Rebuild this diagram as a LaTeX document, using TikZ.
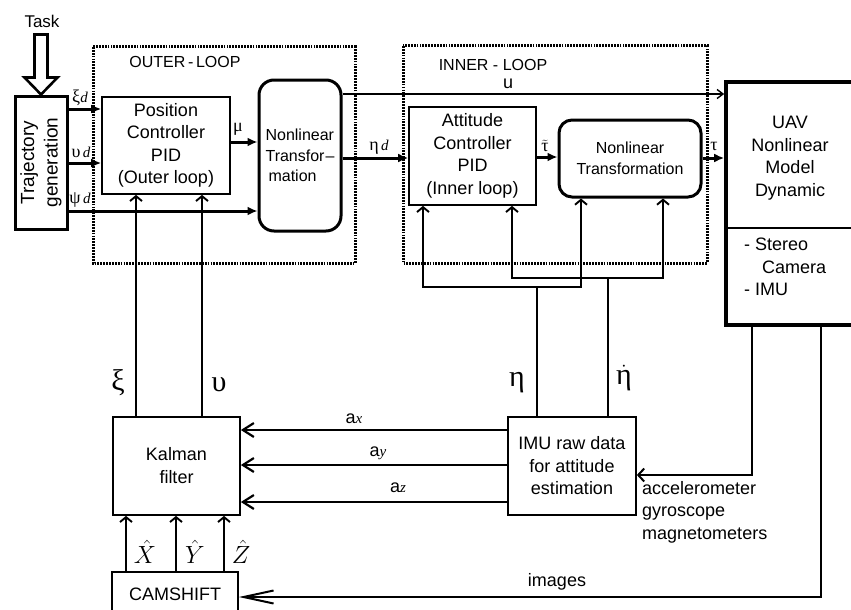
\documentclass[tikz,border=0pt]{standalone}
\usepackage{fontspec}
\setmainfont{Liberation Sans}
\newfontfamily\grk{Liberation Serif}
\usetikzlibrary{arrows.meta}
\newcommand\gsub[2]{{\grk #1}{\grk\itshape\fontsize{15}{15}\selectfont #2}}
\newcommand\asub[1]{a{\grk\itshape\fontsize{15}{15}\selectfont #1}}
\begin{document}
\begin{tikzpicture}[x=1pt,y=-1pt,
  box/.style={draw, line width=1.7pt, inner sep=0pt, align=center, font=\fontsize{18}{22.5}\selectfont},
  rbox/.style={box, line width=3pt, rounded corners=13pt},
  dotframe/.style={line width=3pt, dash pattern=on 1.8pt off 1.1pt},
  fat/.style={line width=3pt, -{Latex[length=10pt,width=9pt]}},
  fb/.style={line width=1.9pt, -{Straight Barb[length=5pt,width=12pt]}},
  ln/.style={line width=1.9pt},
  acc/.style={line width=2.2pt, -{Straight Barb[length=11pt,width=14pt]}},
  glab/.style={inner sep=0pt, font=\fontsize{18}{18}\selectfont},
  biglab/.style={inner sep=0pt, font=\grk\fontsize{30}{30}\selectfont},
  txt/.style={inner sep=0pt, font=\fontsize{18}{22.5}\selectfont}
]
\useasboundingbox (0,0) rectangle (851,610);

% frames
\draw[dotframe] (93,47) rectangle (355,263);
\draw[dotframe] (403,46) rectangle (707,263);
\node[inner sep=0pt, font=\fontsize{16}{16}\selectfont] (outer) at (185,62) {OUTER\,-\,LOOP};
\node[inner sep=0pt, font=\fontsize{16}{16}\selectfont] (inner) at (493,65) {INNER - LOOP};

% blocks
\node[box, line width=3pt, minimum width=52pt, minimum height=133pt] (traj) at (41,162.5) {};
\node[inner sep=0pt, rotate=90, align=center, font=\fontsize{19}{23.5}\selectfont] (trajtxt) at (traj.center) {Trajectory\\generation};
\node[box, minimum width=128pt, minimum height=97pt] (pos) at (166,145.5) {Position\\Controller\\PID\\(Outer loop)};
\node[rbox, minimum width=82pt, minimum height=151pt, align=left, rounded corners=15pt, font=\fontsize{16}{20.5}\selectfont] (nt1) at (300,155.5) {Nonlinear\\Transfor\kern1pt--\\\kern3pt mation};
\node[box, minimum width=127pt, minimum height=98pt] (att) at (472.5,156) {Attitude\\Controller\\PID\\(Inner loop)};
\node[rbox, minimum width=142pt, minimum height=77pt, font=\fontsize{16}{21}\selectfont] (nt2) at (630,158.5) {Nonlinear\\Transformation};
\node[draw, line width=3.6pt, inner sep=0pt, minimum width=132pt, minimum height=243pt] (uav) at (792,203.5) {};
\draw[line width=1.9pt] (uav.west |- 0,228) -- (uav.east |- 0,228);
\node[txt, align=center] (uavtxt) at (790,158) {UAV\\Nonlinear\\Model\\Dynamic};
\node[txt, align=left, anchor=north west] (sens) at (744,238) {- Stereo\\\hspace*{18pt}Camera\\- IMU};

\node[box, minimum width=127pt, minimum height=98pt, font=\fontsize{18}{23}\selectfont] (kal) at (176.5,466) {Kalman\\filter};
\node[box, minimum width=128pt, minimum height=98pt, font=\fontsize{18}{22.5}\selectfont] (imu) at (572,466) {IMU raw data\\for attitude\\estimation};
\node[box, minimum width=126pt, minimum height=44pt] (cam) at (175,594) {CAMSHIFT};

% task arrow
\node[inner sep=0pt, font=\fontsize{17}{17}\selectfont] (task) at (42,21) {Task};
\draw[line width=2.6pt, line join=miter] (traj.north) -- ++(-16.5,-17) -- ++(10,0) -- ++(0,-43) -- ++(13,0) -- ++(0,43) -- ++(10,0) -- cycle;

% reference signals
\draw[fat] (traj.east |- 0,109) -- (pos.west |- 0,109);
\node[glab] (lxid) at (80,98) {\gsub{ξ}{d}};
\draw[fat] (traj.east |- 0,163) -- (pos.west |- 0,163);
\node[glab] (lupd) at (81,152) {\gsub{υ}{\,d}};
\draw[fat] (traj.east |- 0,211) -- (nt1.west |- 0,211);
\node[glab] (lpsid) at (80,200) {\gsub{ψ}{\,d}};
\draw[fat] (pos.east |- 0,142) -- (nt1.west |- 0,142);
\node[glab] (lmu) at (238,129) {{\grk μ}};
\draw[fat] (nt1.east |- 0,158) -- (att.west |- 0,158);
\node[glab] (letad) at (379,147) {\gsub{η}{\,d}};
\draw[line width=1.4pt, -{Straight Barb[length=6pt,width=9pt]}] (nt1.east |- 0,94) -- (uav.west |- 0,94);
\node[glab] (lu) at (508,84) {u};
\draw[fat] (att.east |- 0,157) -- (nt2.west |- 0,157);
\node[glab] (ltt) at (545,146) {$\tilde{\hbox{\grk τ}}$};
\draw[fat] (nt2.east |- 0,158) -- (uav.west |- 0,158);
\node[glab] (ltau) at (714,146) {{\grk τ}};

% outer feedback
\draw[fb] (kal.north -| 136,0) -- (pos.south -| 136,0);
\draw[fb] (kal.north -| 202,0) -- (pos.south -| 202,0);
\node[biglab] (lxi) at (118,383) {ξ};
\node[biglab] (lups) at (219,385) {υ};

% inner feedback bus
\coordinate (a1) at (423,287);
\coordinate (a2) at (581,287);
\coordinate (b1) at (512,278);
\coordinate (b2) at (663,278);
\draw[ln] (imu.north -| 537,0) -- (537,287);
\draw[ln] (imu.north -| 608,0) -- (608,278);
\draw[fb] (a2) -- (a1) -- (att.south -| a1);
\draw[fb] (a1) -- (a2) -- (nt2.south -| a2);
\draw[fb] (b2) -- (b1) -- (att.south -| b1);
\draw[fb] (b1) -- (b2) -- (nt2.south -| b2);
\node[biglab] (leta) at (517,383) {η};
\node[biglab] (letadot) at (624,378) {$\dot{\hbox{\grk\fontsize{30}{30}\selectfont η}}$};

% accelerations
\draw[acc] (imu.west |- 0,430) -- (kal.east |- 0,430);
\draw[acc] (imu.west |- 0,465) -- (kal.east |- 0,465);
\draw[acc] (imu.west |- 0,502) -- (kal.east |- 0,502);
\node[txt, font=\fontsize{18}{18}\selectfont] (lax) at (354,419) {\asub{x}};
\node[txt, font=\fontsize{18}{18}\selectfont] (lay) at (378,453) {\asub{y}};
\node[txt, font=\fontsize{18}{18}\selectfont] (laz) at (398,488) {\asub{z}};

% sensors to IMU
\draw[line width=2pt, -{Straight Barb[length=6pt,width=13pt]}] (uav.south -| 752,0) -- (752,475) -- (imu.east |- 0,475);
\node[txt, align=left, anchor=north west] (sensl) at (642,481) {accelerometer\\gyroscope\\magnetometers};

% images to camshift
\draw[line width=2pt, -{Straight Barb[length=30pt,width=13pt]}] (uav.south -| 821,0) -- (821,597) -- (cam.east |- 0,597);
\node[txt] (limg) at (557,582) {images};

% camshift to kalman
\draw[fb] (cam.north -| 126,0) -- (kal.south -| 126,0);
\draw[fb] (cam.north -| 176,0) -- (kal.south -| 176,0);
\draw[fb] (cam.north -| 224,0) -- (kal.south -| 224,0);
\node[inner sep=0pt, font=\fontsize{24}{24}\selectfont] (lX) at (145,552) {$\hat{X}$};
\node[inner sep=0pt, font=\fontsize{24}{24}\selectfont] (lY) at (195,552) {$\hat{Y}$};
\node[inner sep=0pt, font=\fontsize{24}{24}\selectfont] (lZ) at (241,552) {$\hat{Z}$};
\end{tikzpicture}
\end{document}
